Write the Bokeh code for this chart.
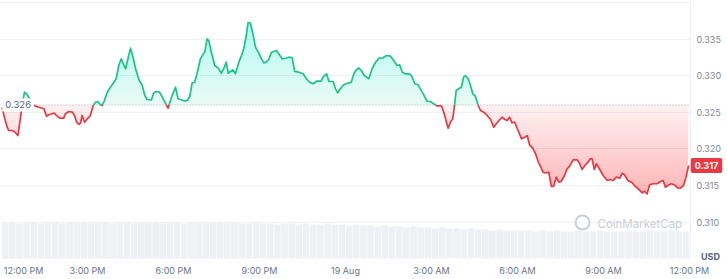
import numpy as np
from bokeh.plotting import figure
from bokeh.models import Range1d, FixedTicker, Span, Label, NumeralTickFormatter, BoxAnnotation
from bokeh.embed import file_html
from bokeh.resources import INLINE

# ---------------- data (hours after 12:00 PM, 18 Aug; price in USD) ----------------
hours = [
    0.02, 0.10, 0.20, 0.25, 0.41, 0.49, 0.57, 0.64, 0.72, 0.80,
    0.87, 0.95, 1.09, 1.19, 1.30, 1.42, 1.48, 1.57, 1.65, 1.77,
    1.85, 1.94, 2.03, 2.17, 2.23, 2.35, 2.47, 2.55, 2.62, 2.70,
    2.76, 2.81, 2.90, 2.96, 3.05, 3.10, 3.20, 3.28, 3.36, 3.45,
    3.51, 3.59, 3.69, 3.80, 3.92, 4.00, 4.09, 4.18, 4.27, 4.33,
    4.41, 4.50, 4.59, 4.67, 4.79, 4.91, 5.00, 5.08, 5.23, 5.31,
    5.40, 5.51, 5.61, 5.70, 5.81, 5.93, 6.07, 6.16, 6.24, 6.36,
    6.48, 6.57, 6.65, 6.74, 6.83, 6.94, 7.04, 7.09, 7.17, 7.23,
    7.32, 7.44, 7.56, 7.67, 7.75, 7.84, 7.91, 7.99, 8.07, 8.16,
    8.28, 8.37, 8.45, 8.54, 8.60, 8.68, 8.77, 8.86, 8.97, 9.07,
    9.15, 9.23, 9.32, 9.42, 9.50, 9.59, 9.67, 9.79, 9.91, 10.02,
    10.14, 10.23, 10.37, 10.52, 10.64, 10.75, 10.87, 10.99, 11.15, 11.24,
    11.34, 11.42, 11.57, 11.65, 11.73, 11.82, 11.94, 12.11, 12.20, 12.29,
    12.38, 12.46, 12.55, 12.66, 12.81, 12.93, 13.05, 13.16, 13.31, 13.43,
    13.57, 13.68, 13.80, 13.89, 13.98, 14.09, 14.21, 14.30, 14.42, 14.53,
    14.61, 14.73, 14.85, 14.96, 15.08, 15.20, 15.31, 15.37, 15.46, 15.58,
    15.66, 15.74, 15.81, 15.86, 15.95, 16.04, 16.12, 16.18, 16.28, 16.36,
    16.44, 16.53, 16.63, 16.71, 16.82, 16.94, 17.06, 17.17, 17.26, 17.35,
    17.46, 17.56, 17.64, 17.72, 17.81, 17.90, 18.02, 18.14, 18.25, 18.34,
    18.42, 18.53, 18.63, 18.72, 18.80, 18.89, 18.97, 19.09, 19.18, 19.26,
    19.35, 19.44, 19.52, 19.64, 19.73, 19.82, 19.94, 20.08, 20.17, 20.25,
    20.37, 20.46, 20.54, 20.60, 20.68, 20.75, 20.87, 20.99, 21.13, 21.24,
    21.34, 21.45, 21.57, 21.65, 21.73, 21.85, 22.00, 22.11, 22.23, 22.35,
    22.43, 22.52, 22.61, 22.73, 22.87, 22.99, 23.08, 23.16, 23.24, 23.36,
    23.47, 23.58, 23.68, 23.79, 23.88, 23.97,
]
price = [
    0.32570, 0.32433, 0.32297, 0.32252, 0.32248, 0.32220, 0.32183, 0.32365, 0.32593, 0.32775,
    0.32753, 0.32707, 0.32603, 0.32584, 0.32570, 0.32556, 0.32548, 0.32447, 0.32466, 0.32480,
    0.32488, 0.32447, 0.32420, 0.32420, 0.32480, 0.32511, 0.32502, 0.32457, 0.32365, 0.32334,
    0.32357, 0.32457, 0.32365, 0.32398, 0.32433, 0.32457, 0.32593, 0.32638, 0.32648, 0.32603,
    0.32593, 0.32661, 0.32775, 0.32843, 0.32911, 0.32958, 0.33140, 0.33231, 0.33140, 0.33095,
    0.33231, 0.33376, 0.33253, 0.33105, 0.32948, 0.32866, 0.32730, 0.32675, 0.32671, 0.32767,
    0.32784, 0.32775, 0.32707, 0.32638, 0.32556, 0.32707, 0.32843, 0.32685, 0.32675, 0.32657,
    0.32661, 0.32720, 0.32903, 0.32911, 0.33048, 0.33231, 0.33299, 0.33321, 0.33502, 0.33481,
    0.33321, 0.33140, 0.33103, 0.33034, 0.33095, 0.33185, 0.33034, 0.33058, 0.33081, 0.33026,
    0.33185, 0.33276, 0.33368, 0.33549, 0.33727, 0.33720, 0.33573, 0.33390, 0.33313, 0.33231,
    0.33176, 0.33185, 0.33222, 0.33321, 0.33331, 0.33344, 0.33299, 0.33231, 0.33239, 0.33253,
    0.33245, 0.33058, 0.33048, 0.33026, 0.32958, 0.32911, 0.32890, 0.32925, 0.32925, 0.32993,
    0.33026, 0.32921, 0.32921, 0.32821, 0.32767, 0.32821, 0.32876, 0.32903, 0.32911, 0.33026,
    0.33081, 0.33108, 0.33071, 0.33003, 0.32958, 0.33095, 0.33185, 0.33239, 0.33245, 0.33276,
    0.33267, 0.33208, 0.33140, 0.33149, 0.33048, 0.33026, 0.33026, 0.33003, 0.32890, 0.32876,
    0.32821, 0.32739, 0.32648, 0.32648, 0.32616, 0.32584, 0.32593, 0.32570, 0.32457, 0.32283,
    0.32365, 0.32411, 0.32616, 0.32798, 0.32821, 0.32843, 0.32980, 0.33003, 0.32958, 0.32866,
    0.32753, 0.32720, 0.32593, 0.32525, 0.32502, 0.32457, 0.32402, 0.32297, 0.32343, 0.32388,
    0.32433, 0.32402, 0.32388, 0.32433, 0.32357, 0.32365, 0.32252, 0.32138, 0.32160, 0.32183,
    0.32056, 0.32010, 0.31933, 0.31828, 0.31763, 0.31682, 0.31671, 0.31682, 0.31487, 0.31487,
    0.31614, 0.31545, 0.31555, 0.31637, 0.31728, 0.31764, 0.31851, 0.31851, 0.31797, 0.31719,
    0.31783, 0.31819, 0.31865, 0.31865, 0.31719, 0.31797, 0.31719, 0.31637, 0.31569, 0.31582,
    0.31569, 0.31614, 0.31600, 0.31668, 0.31647, 0.31569, 0.31537, 0.31487, 0.31446, 0.31401,
    0.31422, 0.31387, 0.31510, 0.31524, 0.31524, 0.31555, 0.31569, 0.31477, 0.31500, 0.31524,
    0.31510, 0.31469, 0.31463, 0.31500, 0.31614, 0.31774,
]
base_price = 0.326
last_label = "0.317"
base_label = "0.326"

# volume, 15-minute buckets (millions USD)
volume = [
    3.5, 3.6, 3.5, 3.6, 3.6, 3.5, 3.6, 3.6, 3.5, 3.6, 3.6, 3.6,
    3.5, 3.6, 3.6, 3.5, 3.6, 3.6, 3.5, 3.6, 3.6, 3.6, 3.5, 3.6,
    3.6, 3.5, 3.6, 3.6, 3.5, 3.6, 3.6, 3.5, 3.6, 3.5, 3.5, 3.6,
    3.5, 3.5, 3.4, 3.5, 3.5, 3.4, 3.5, 3.4, 3.4, 3.5, 3.4, 3.4,
    3.3, 3.4, 3.3, 3.3, 3.2, 3.3, 3.2, 3.2, 3.1, 3.2, 3.1, 3.1,
    3.0, 3.1, 3.0, 3.0, 2.9, 3.0, 2.9, 2.9, 2.8, 2.9, 2.8, 2.8,
    2.8, 2.8, 2.7, 2.8, 2.7, 2.8, 2.7, 2.7, 2.8, 2.7, 2.7, 2.8,
    2.7, 2.7, 2.7, 2.8, 2.7, 2.7, 2.8, 2.7, 2.7, 2.8, 2.7, 2.7,
]
vol_step = 0.25

x_ticks = [3, 6, 9, 12, 15, 18, 21, 24]
x_tick_labels = ["3:00 PM", "6:00 PM", "9:00 PM", "19 Aug", "3:00 AM", "6:00 AM", "9:00 AM", "12:00 PM"]
first_tick_label = "12:00 PM"
y_ticks = [0.310, 0.315, 0.320, 0.325, 0.330, 0.335]
grid_ticks = [0.310, 0.315, 0.320, 0.325, 0.330, 0.335, 0.340]

assert len(hours) == len(price)

GREEN = "#16c784"
RED = "#ea3943"
TXT = "#808a9d"
FONT = "Inter"

# layout constants (data units)
X_START, X_END = -0.0349, 25.3256
Y_START, Y_END = 0.302161, 0.340276
PLOT_BOTTOM = 0.305030     # price level where the price pane ends
PLOT_RIGHT = 24.034        # time where the price pane ends (y-axis line)

# ---------------- split at baseline crossings ----------------
h = np.array(hours)
pr = np.array(price)
H = [h[0]]
P = [pr[0]]
for i in range(1, len(h)):
    a, b = pr[i - 1] - base_price, pr[i] - base_price
    if a * b < 0:
        t = a / (a - b)
        H.append(h[i - 1] + t * (h[i] - h[i - 1]))
        P.append(base_price)
    H.append(h[i])
    P.append(pr[i])
H = np.array(H)
P = np.array(P)
green_line = np.where(P >= base_price, P, np.nan)
red_line = np.where(P <= base_price, P, np.nan)

p = figure(width=727, height=279, output_backend="svg", toolbar_location=None,
           x_range=Range1d(X_START, X_END), y_range=Range1d(Y_START, Y_END),
           y_axis_location="right", min_border=0, min_border_left=0, min_border_right=0,
           min_border_top=0, min_border_bottom=0)
p.extra_y_ranges = {"vol": Range1d(-2.1, 25.8)}
p.outline_line_color = None
p.background_fill_color = "white"
p.border_fill_color = "white"

# grid
p.xgrid.visible = False
p.ygrid.ticker = FixedTicker(ticks=grid_ticks)
p.ygrid.grid_line_color = "#eff2f5"
p.ygrid.grid_line_width = 1

p.add_layout(Span(location=base_price, dimension="width", line_color="#a7adbd",
                  line_dash="1 2", line_width=1, level="underlay"))
# blank the axis gutter so grid lines stop at the pane edge
p.add_layout(BoxAnnotation(left=PLOT_RIGHT, fill_color="white", fill_alpha=1.0,
                           line_color=None, level="underlay"))

# volume bars
vol_x = [vol_step * (i + 0.5) for i in range(len(volume))]
p.vbar(x=vol_x, top=volume, width=vol_step * 0.93, bottom=0, y_range_name="vol",
       fill_color="#eef0f4", line_color=None)

# gradient fills as stacked translucent layers
top_p = float(np.max(P))
bot_p = float(np.min(P))
d = 0.0002
ng = int((top_p - base_price) / d)
nr = int((base_price - bot_p) / d)
p.varea(x=H, y1=base_price, y2=np.maximum(P, base_price), fill_color=GREEN, fill_alpha=0.09)
ag = 1 - (0.70 / 0.91) ** (1.0 / ng)
for k in range(1, ng + 1):
    lv = base_price + k * d
    p.varea(x=H, y1=lv, y2=np.maximum(P, lv), fill_color=GREEN, fill_alpha=ag)
p.varea(x=H, y1=np.minimum(P, base_price), y2=base_price, fill_color=RED, fill_alpha=0.07)
ar = 1 - (0.66 / 0.93) ** (1.0 / nr)
for k in range(1, nr + 1):
    lv = base_price - k * d
    p.varea(x=H, y1=np.minimum(P, lv), y2=lv, fill_color=RED, fill_alpha=ar)

p.line(H, green_line, line_color=GREEN, line_width=1.7, line_join="round")
p.line(H, red_line, line_color=RED, line_width=1.7, line_join="round")

# axes drawn at the pane edges
p.xaxis.fixed_location = PLOT_BOTTOM
p.xaxis.ticker = FixedTicker(ticks=x_ticks)
p.xaxis.major_label_overrides = {t: l for t, l in zip(x_ticks, x_tick_labels)}
p.xaxis.axis_line_color = None
p.xaxis.major_tick_line_color = None
p.xaxis.minor_tick_line_color = None
p.xaxis.major_tick_out = 0
p.xaxis.major_tick_in = 0
p.xaxis.minor_tick_out = 0
p.xaxis.major_label_standoff = 7
p.xaxis.major_label_text_font = FONT
p.xaxis.major_label_text_font_size = "9px"
p.xaxis.major_label_text_color = "#6b7588"

p.yaxis.fixed_location = PLOT_RIGHT
p.yaxis.bounds = (PLOT_BOTTOM, Y_END)
p.yaxis.ticker = FixedTicker(ticks=y_ticks)
p.yaxis.formatter = NumeralTickFormatter(format="0.000")
p.yaxis.axis_line_color = "#eef0f3"
p.yaxis.major_tick_line_color = None
p.yaxis.minor_tick_line_color = None
p.yaxis.major_tick_out = 0
p.yaxis.major_tick_in = 0
p.yaxis.minor_tick_out = 0
p.yaxis.major_label_standoff = 6
p.yaxis.major_label_text_font = FONT
p.yaxis.major_label_text_font_size = "9px"
p.yaxis.major_label_text_color = TXT

# first time label (kept inside the canvas)
p.add_layout(Label(x=0.08, y=0.304074, text=first_tick_label, text_align="left",
                   text_baseline="top", text_font=FONT, text_font_size="9px",
                   text_color="#6b7588"))

# baseline badge
p.add_layout(Label(x=0.58, y=base_price, text=base_label, text_align="center",
                   text_baseline="middle", text_font=FONT, text_font_size="9.5px",
                   text_color="#58667e", background_fill_color="white", padding=3))

# last price badge
p.add_layout(Label(x=24.593, y=price[-1], text=last_label, text_align="center",
                   text_baseline="middle", text_font=FONT, text_font_size="9px",
                   text_font_style="bold", text_color="white",
                   background_fill_color=RED, padding=4, border_radius=2))

# currency
p.add_layout(Label(x=24.732, y=0.305303, text="USD", text_align="center",
                   text_baseline="middle", text_font=FONT, text_font_size="9px",
                   text_font_style="bold", text_color="#58667e"))

# watermark
p.scatter(x=[20.27], y=[0.30995], marker="circle", size=14, fill_color=None,
          line_color="#c9ced8", line_width=2)
p.add_layout(Label(x=20.79, y=0.30981, text="CoinMarketCap", text_align="left",
                   text_baseline="middle", text_font=FONT, text_font_size="11.5px",
                   text_color="#c9ced8"))

open("out.html", "w").write(file_html(p, INLINE))
